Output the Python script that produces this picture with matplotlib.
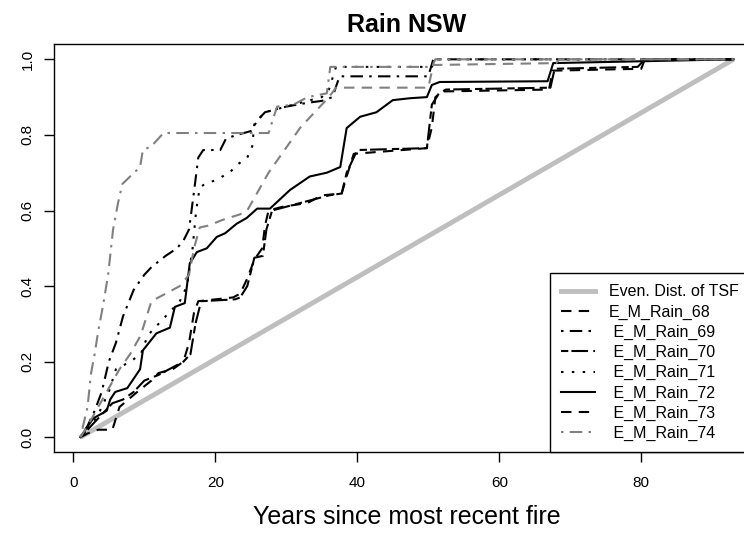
import matplotlib
matplotlib.use('Agg')
import matplotlib.pyplot as plt
from matplotlib.lines import Line2D

plt.rcParams['font.family'] = ['Liberation Sans', 'DejaVu Sans']

# even distribution of time since fire
even_x = [1, 93]
even_y = [0.0, 1.0]

rain68_x = [1, 2, 3.5, 5.5, 6.5, 9, 11, 12, 14, 15.5, 16.3, 17, 17.6, 22.5, 23.5, 24.5, 25.5, 26.6, 27, 27.5,
            29.5, 33, 35, 37.8, 38.5, 39.5, 49.8, 50.5, 51, 52, 67, 67.5, 80, 80.5, 93]
rain68_y = [0, 0.01, 0.02, 0.02, 0.08, 0.12, 0.15, 0.17, 0.18, 0.2, 0.25, 0.33, 0.36, 0.37, 0.38, 0.42, 0.47, 0.5,
            0.56, 0.6, 0.61, 0.62, 0.64, 0.645, 0.69, 0.75, 0.765, 0.82, 0.9, 0.915, 0.92, 0.97, 0.975, 1.0, 1.0]

rain69_x = [1, 2, 3, 4, 5, 6, 7, 8.5, 10, 11, 13, 14.6, 15.5, 16.3, 17, 17.6, 18.3, 20.7, 21.5, 23, 25, 26, 27,
            30, 33, 35, 36.5, 37.5, 39, 50, 50.7, 93]
rain69_y = [0, 0.03, 0.07, 0.12, 0.2, 0.25, 0.32, 0.39, 0.43, 0.45, 0.48, 0.5, 0.52, 0.55, 0.65, 0.74, 0.76, 0.76,
            0.79, 0.8, 0.81, 0.84, 0.86, 0.875, 0.885, 0.89, 0.9, 0.955, 0.955, 0.955, 1.0, 1.0]

rain70_x = [1, 2.5, 4, 5.5, 7, 8.5, 10, 12, 14, 15.5, 16.5, 17.2, 18, 22.8, 23.5, 24.5, 25.5, 26.7, 27.2, 28,
            30, 33, 36, 37.8, 38.5, 40, 49.8, 50.5, 51.5, 52.5, 67.2, 67.8, 79.5, 80.5, 93]
rain70_y = [0, 0.03, 0.06, 0.09, 0.1, 0.12, 0.15, 0.165, 0.185, 0.2, 0.22, 0.3, 0.36, 0.365, 0.37, 0.4, 0.475,
            0.48, 0.55, 0.6, 0.61, 0.625, 0.64, 0.645, 0.7, 0.76, 0.765, 0.88, 0.91, 0.92, 0.925, 0.975, 0.98, 1.0, 1.0]

rain71_x = [1, 2, 3.5, 5, 6, 8, 9.5, 10.5, 12, 13.5, 15, 16, 16.8, 17.3, 17.8, 18.5, 20, 22, 23, 24.5, 25.2,
            25.5, 27, 29, 31, 33, 35, 36, 37, 50.5, 51, 93]
rain71_y = [0, 0.02, 0.06, 0.12, 0.18, 0.2, 0.22, 0.27, 0.3, 0.33, 0.36, 0.4, 0.5, 0.6, 0.66, 0.67, 0.68, 0.7,
            0.72, 0.74, 0.77, 0.83, 0.86, 0.87, 0.88, 0.89, 0.9, 0.92, 0.98, 0.98, 1.0, 1.0]

rain72_x = [1, 2.8, 4.7, 5.2, 5.9, 7.6, 9.4, 9.8, 11.7, 13.6, 14.3, 15.7, 16.4, 17.4, 18.8, 20.2, 21.4, 23, 24.4,
            25.9, 27.7, 30.5, 33.3, 35.7, 37.6, 38.5, 39, 40.4, 42.7, 45, 47.4, 49.8, 50.5, 51.6, 66.8, 67.6, 93]
rain72_y = [0, 0.05, 0.07, 0.1, 0.12, 0.13, 0.18, 0.23, 0.275, 0.29, 0.345, 0.355, 0.46, 0.49, 0.5, 0.53, 0.54,
            0.565, 0.58, 0.605, 0.605, 0.654, 0.69, 0.70, 0.715, 0.818, 0.826, 0.848, 0.86, 0.892, 0.897, 0.9,
            0.932, 0.94, 0.942, 0.99, 1.0]

rain73_x = [1, 2, 3.5, 5, 6.5, 8, 9.5, 11, 13, 15, 16.3, 17, 17.8, 19, 21, 23.5, 24.5, 26, 27.5, 29, 30.5, 32,
            34, 36, 37, 50, 50.7, 68, 68.5, 93]
rain73_y = [0, 0.03, 0.08, 0.13, 0.18, 0.22, 0.27, 0.36, 0.38, 0.4, 0.43, 0.5, 0.555, 0.56, 0.575, 0.59, 0.6,
            0.65, 0.7, 0.74, 0.78, 0.82, 0.86, 0.9, 0.925, 0.925, 0.985, 0.99, 1.0, 1.0]

rain74_x = [1, 2, 2.5, 3, 3.5, 4.2, 4.9, 5.6, 6.3, 6.9, 8, 9.4, 9.8, 11, 12.7, 27.5, 28.7, 31, 33, 35.7, 36.2,
            50.5, 51, 93]
rain74_y = [0, 0.08, 0.17, 0.22, 0.28, 0.35, 0.43, 0.55, 0.62, 0.67, 0.69, 0.715, 0.76, 0.77, 0.805, 0.805,
            0.875, 0.88, 0.9, 0.91, 0.98, 0.98, 1.0, 1.0]

labels = ['Even. Dist. of TSF', 'E_M_Rain_68', ' E_M_Rain_69', ' E_M_Rain_70', ' E_M_Rain_71',
          ' E_M_Rain_72', ' E_M_Rain_73', ' E_M_Rain_74']

# R-like line types
DASHED = (5, 3.5)
DOTDASH = (1.2, 3, 6, 3)
LONGDASH = (3.5, 1.5, 8, 2.5)
DOTTED = (1.2, 4)
GRAY = '#808080'
LIGHT = '#bebebe'

fig = plt.figure(figsize=(7.44, 5.33), dpi=100)
ax = fig.add_axes([54.3 / 744, 1 - 452.4 / 533, (759.7 - 54.3) / 744, (452.4 - 44.2) / 533])

lw = 1.5
ax.plot(even_x, even_y, color=LIGHT, lw=3.5, solid_capstyle='butt')
ax.plot(rain68_x, rain68_y, color='black', lw=lw, dashes=DASHED)
ax.plot(rain69_x, rain69_y, color='black', lw=lw, dashes=DOTDASH)
ax.plot(rain70_x, rain70_y, color='black', lw=lw, dashes=LONGDASH)
ax.plot(rain71_x, rain71_y, color='black', lw=lw, dashes=DOTTED)
ax.plot(rain72_x, rain72_y, color='black', lw=lw)
ax.plot(rain73_x, rain73_y, color=GRAY, lw=lw, dashes=DASHED)
ax.plot(rain74_x, rain74_y, color=GRAY, lw=lw, dashes=DOTDASH)

ax.set_xlim(-2.68, 96.68)
ax.set_ylim(-0.04, 1.04)
ax.set_xticks([0, 20, 40, 60, 80])
ax.set_yticks([0.0, 0.2, 0.4, 0.6, 0.8, 1.0])
ax.set_yticklabels(['0.0', '0.2', '0.4', '0.6', '0.8', '1.0'], rotation=90, va='center')
ax.tick_params(direction='out', length=7, width=1, labelsize=11, pad=7)
ax.tick_params(axis='x', pad=10)
for s in ax.spines.values():
    s.set_linewidth(1)

ax.set_title('Rain NSW', fontsize=18, fontweight='bold', pad=9)
ax.set_xlabel('Years since most recent fire', fontsize=18, labelpad=11)

handles = [Line2D([], [], color=LIGHT, lw=3.5),
           Line2D([], [], color='black', lw=lw, dashes=DASHED),
           Line2D([], [], color='black', lw=lw, dashes=DOTDASH),
           Line2D([], [], color='black', lw=lw, dashes=LONGDASH),
           Line2D([], [], color='black', lw=lw, dashes=DOTTED),
           Line2D([], [], color='black', lw=lw),
           Line2D([], [], color='black', lw=lw, dashes=DASHED),
           Line2D([], [], color=GRAY, lw=lw, dashes=DOTDASH)]
leg_left = (550 - 54.3) / (759.7 - 54.3)
ax.legend(handles, labels, loc='lower left', bbox_to_anchor=(leg_left, 0), borderaxespad=0,
          fancybox=False, edgecolor='black', framealpha=1, fontsize=11.5, handlelength=2.1,
          handletextpad=0.9, labelspacing=0.32, borderpad=0.7)
ax.get_legend().get_frame().set_linewidth(1)

fig.savefig('out.png', dpi=100)
